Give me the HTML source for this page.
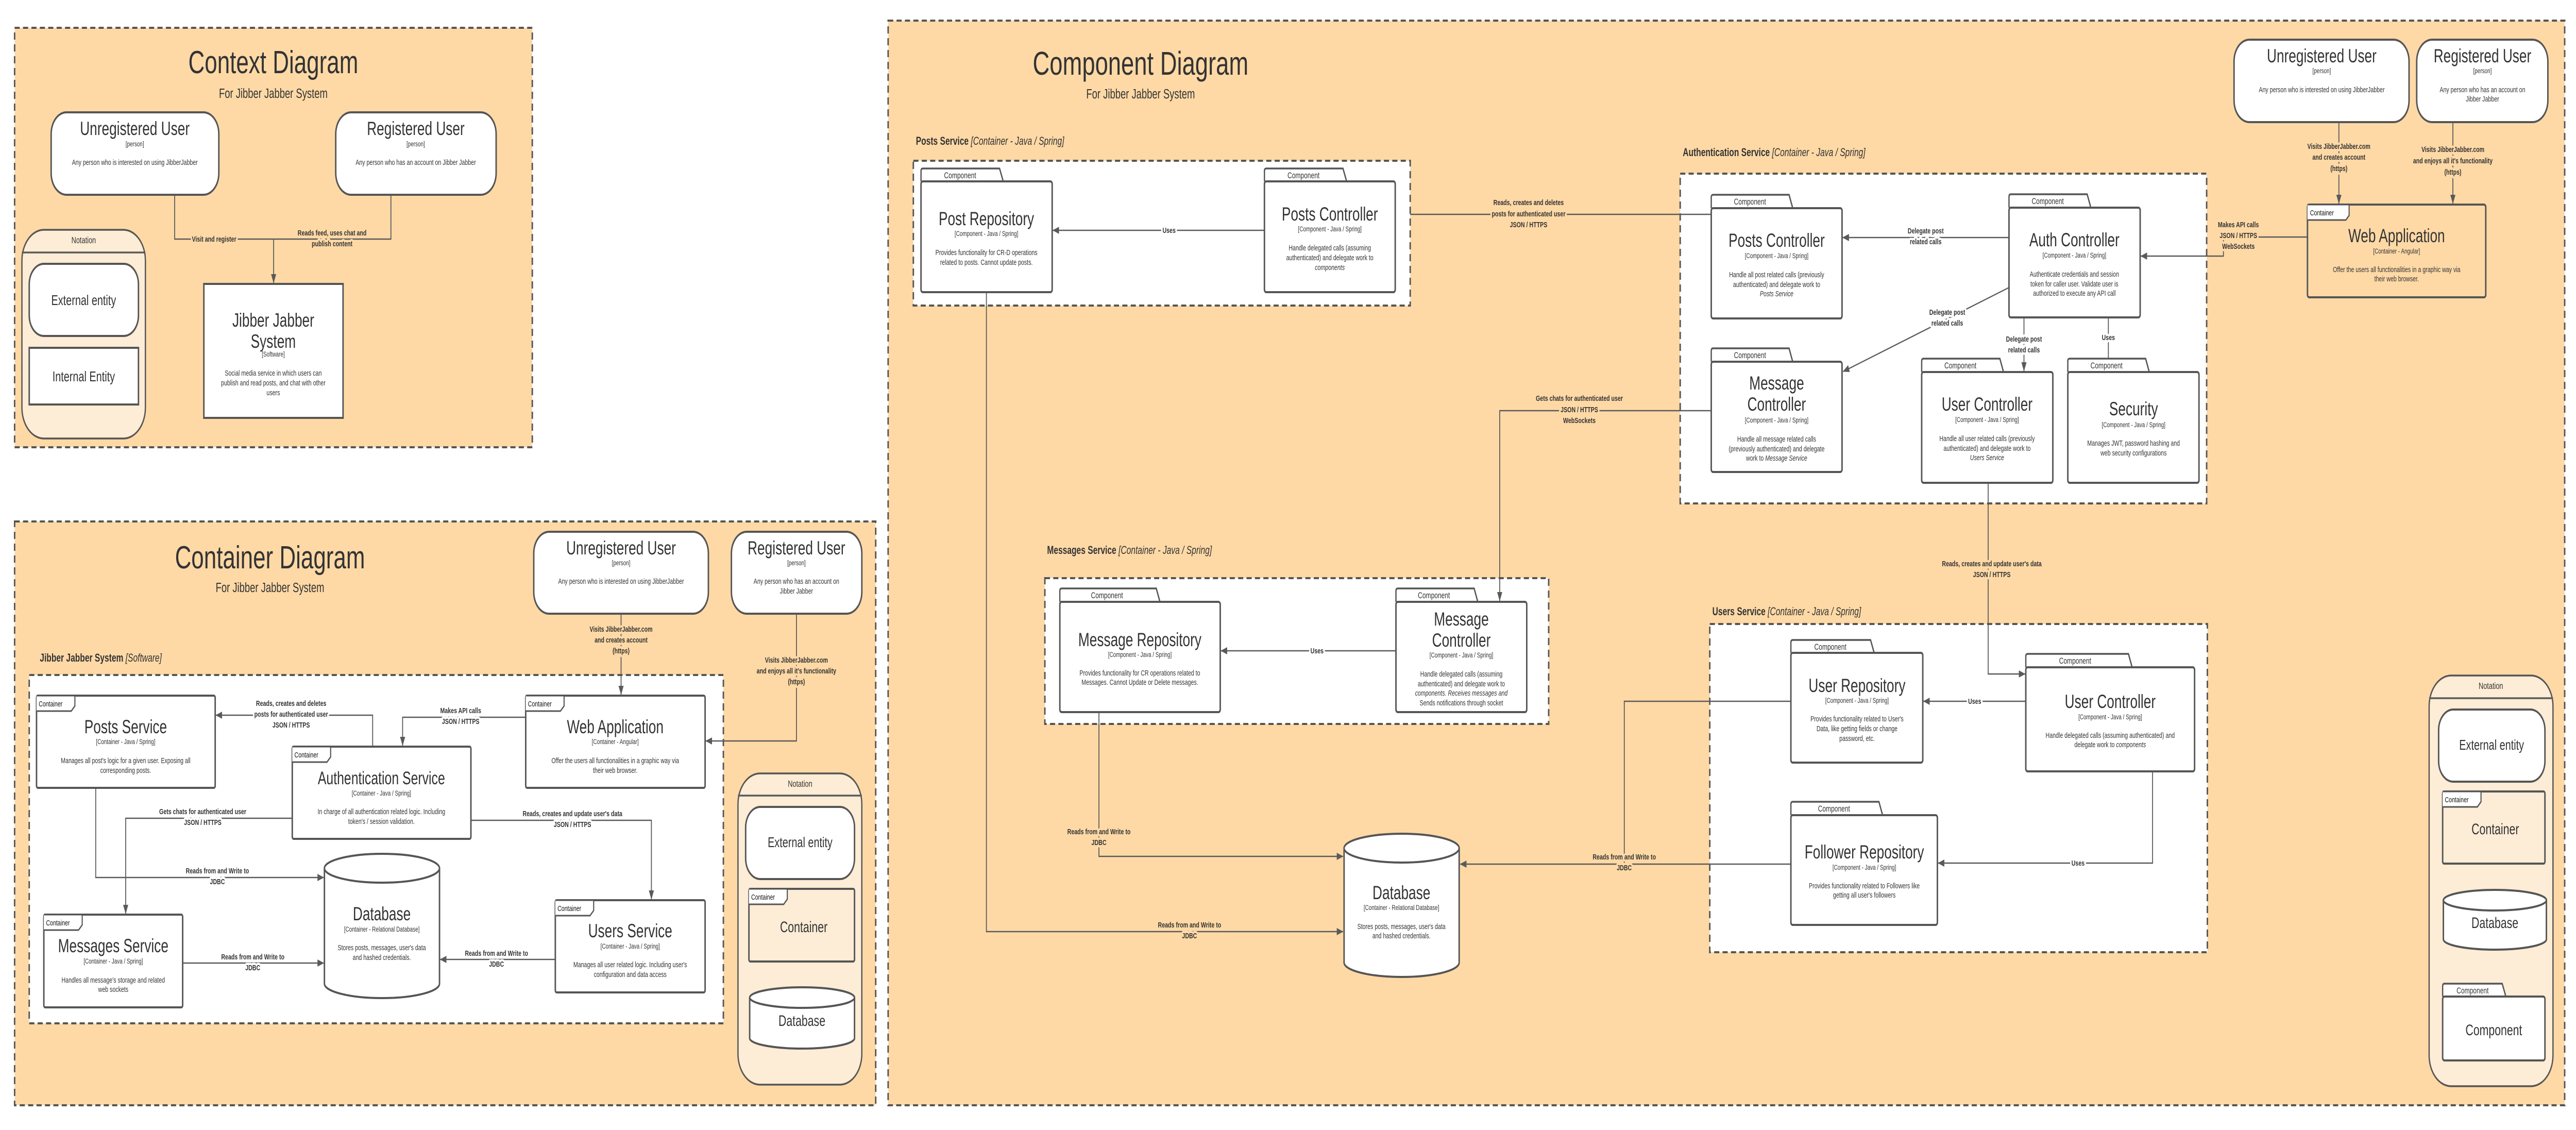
<!DOCTYPE html>
<html><head><meta charset="utf-8"><style>
html,body{margin:0;padding:0;background:#fff;width:100%;height:100%;overflow:hidden;}
svg{display:block;position:fixed;left:0;top:0;width:100vw;height:100vh;}
text{font-family:"Liberation Sans",sans-serif;fill:#333;text-anchor:middle;}
.fr{fill:#fed9a6;stroke:#555;stroke-width:4;stroke-dasharray:14 9;}
.wb{fill:#fff;stroke:#555;stroke-width:4;stroke-dasharray:14 9;}
.bx{fill:#fff;stroke:#555;stroke-width:4;}
.bo{fill:#fed9a6;stroke:#555;stroke-width:4;}
.nt{fill:#fdecd6;stroke:#555;stroke-width:3.5;}
.ln{fill:none;stroke:#5a5a5a;stroke-width:2.5;}
.la{fill:none;stroke:#5a5a5a;stroke-width:2.5;marker-end:url(#ah);}
.lb{font-weight:bold;font-size:15px;stroke:#fed9a6;stroke-width:9px;paint-order:stroke;stroke-linejoin:round;}
.lw{font-weight:bold;font-size:15px;stroke:#fff;stroke-width:9px;paint-order:stroke;stroke-linejoin:round;}
.h1{font-size:62px;}
.h2{font-size:26px;}
.pt{font-size:37px;}
.ct{font-size:35px;}
.sm{font-size:14px;}
.ds{font-size:15px;}
.tb{font-size:17px;}
.tc{font-size:15px;text-anchor:start;fill:#111;}
.sl{font-size:22px;font-weight:bold;text-anchor:start;}
.sl tspan.i{font-weight:normal;font-style:italic;}
.nn{font-size:28px;}
</style></head><body>
<svg viewBox="0 0 7051 2193" preserveAspectRatio="none" xmlns="http://www.w3.org/2000/svg">
<defs>
<marker id="ah" markerUnits="userSpaceOnUse" markerWidth="18" markerHeight="14" refX="17" refY="7" orient="auto">
<path d="M0,0 L18,7 L0,14 z" fill="#5a5a5a"/>
</marker>
</defs>

<!-- ================= CONTEXT ================= -->
<rect class="fr" x="40" y="54" width="1417" height="814"/>
<text class="h1" x="748" y="142">Context Diagram</text>
<text class="h2" x="748" y="190">For Jibber Jabber System</text>

<path class="ln" d="M478 378 V464 H749"/>
<path class="ln" d="M1070 378 V464 H749"/>
<path class="la" d="M749 464 V549"/>
<text class="lb" x="586" y="469">Visit and register</text>
<text class="lb" x="909" y="457">Reads feed, uses chat and</text>
<text class="lb" x="909" y="478">publish content</text>

<rect class="bx" x="140" y="218" width="459" height="160" rx="42"/>
<text class="pt" x="369" y="262">Unregistered User</text>
<text class="sm" x="369" y="284">[person]</text>
<text class="ds" x="369" y="320">Any person who is interested on using JibberJabber</text>
<rect class="bx" x="919" y="218" width="439" height="160" rx="42"/>
<text class="pt" x="1138" y="262">Registered User</text>
<text class="sm" x="1138" y="284">[person]</text>
<text class="ds" x="1138" y="320">Any person who has an account on Jibber Jabber</text>

<rect class="bx" x="558" y="551" width="381" height="260"/>
<text class="pt" x="748" y="634">Jibber Jabber</text>
<text class="pt" x="748" y="675">System</text>
<text class="sm" x="748" y="692">[Software]</text>
<text class="ds" x="748" y="729">Social media service in which users can</text>
<text class="ds" x="748" y="748">publish and read posts, and chat with other</text>
<text class="ds" x="748" y="767">users</text>

<rect class="nt" x="60" y="446" width="338" height="405" rx="60"/>
<path class="ln" d="M60 490 H398" style="stroke-width:3.5"/>
<text x="229" y="472" style="font-size:18px">Notation</text>
<rect class="bx" x="80" y="512" width="299" height="140" rx="40"/>
<text class="nn" x="229" y="592">External entity</text>
<rect class="bx" x="80" y="675" width="299" height="110"/>
<text class="nn" x="229" y="740">Internal Entity</text>

<!-- ================= CONTAINER ================= -->
<rect class="fr" x="40" y="1012" width="2357" height="1133"/>
<text class="h1" x="739" y="1103">Container Diagram</text>
<text class="h2" x="739" y="1149">For Jibber Jabber System</text>

<rect class="bx" x="1461" y="1032" width="478" height="159" rx="42"/>
<text class="pt" x="1700" y="1076">Unregistered User</text>
<text class="sm" x="1700" y="1097">[person]</text>
<text class="ds" x="1700" y="1133">Any person who is interested on using JibberJabber</text>
<rect class="bx" x="2002" y="1032" width="357" height="159" rx="42"/>
<text class="pt" x="2180" y="1076">Registered User</text>
<text class="sm" x="2180" y="1097">[person]</text>
<text class="ds" x="2180" y="1133">Any person who has an account on</text>
<text class="ds" x="2180" y="1152">Jibber Jabber</text>

<text class="sl" x="109" y="1284">Jibber Jabber System <tspan class="i">[Software]</tspan></text>
<rect class="wb" x="80" y="1310" width="1900" height="676"/>

<path class="la" d="M1700 1191 V1348"/>
<text class="lb" x="1700" y="1226">Visits JibberJabber.com</text>
<text class="lb" x="1700" y="1247">and creates account</text>
<text class="lb" x="1700" y="1268">(https)</text>
<path class="la" d="M2180 1191 V1438 H1932"/>
<text class="lb" x="2180" y="1286">Visits JibberJabber.com</text>
<text class="lb" x="2180" y="1307">and enjoys all it's functionality</text>
<text class="lb" x="2180" y="1328">(https)</text>
<path class="la" d="M1439 1392 H1102 V1447"/>
<text class="lw" x="1261" y="1384">Makes API calls</text>
<text class="lw" x="1261" y="1405">JSON / HTTPS</text>
<path class="la" d="M1020 1449 V1388 H591"/>
<text class="lw" x="797" y="1370">Reads, creates and deletes</text>
<text class="lw" x="797" y="1391">posts for authenticated user</text>
<text class="lw" x="797" y="1412">JSON / HTTPS</text>
<path class="la" d="M800 1588 H344 V1773"/>
<text class="lw" x="555" y="1580">Gets chats for  authenticated user</text>
<text class="lw" x="555" y="1601">JSON / HTTPS</text>
<path class="la" d="M1289 1592 H1783 V1745"/>
<text class="lw" x="1567" y="1584">Reads, creates and update user's data</text>
<text class="lw" x="1567" y="1605">JSON / HTTPS</text>
<path class="la" d="M262 1529 V1703 H886"/>
<text class="lw" x="595" y="1695">Reads from and Write to</text>
<text class="lw" x="595" y="1716">JDBC</text>
<path class="la" d="M500 1869 H886"/>
<text class="lw" x="692" y="1862">Reads from and Write to</text>
<text class="lw" x="692" y="1883">JDBC</text>
<path class="la" d="M1520 1862 H1205"/>
<text class="lw" x="1359" y="1855">Reads from and Write to</text>
<text class="lw" x="1359" y="1876">JDBC</text>

<rect class="bx" x="100" y="1350" width="489" height="179" rx="4"/>
<path d="M100 1350 H205 V1370 L195 1380 H100" fill="#fff" stroke="#555" stroke-width="3"/>
<text class="tc" x="106" y="1371">Container</text>
<text class="pt" x="344" y="1423">Posts Service</text>
<text class="sm" x="344" y="1444">[Container - Java / Spring]</text>
<text class="ds" x="344" y="1481">Manages all post's logic for a given user. Exposing all</text>
<text class="ds" x="344" y="1500">corresponding posts.</text>

<rect class="bx" x="800" y="1449" width="489" height="179" rx="4"/>
<path d="M800 1449 H905 V1469 L895 1479 H800" fill="#fff" stroke="#555" stroke-width="3"/>
<text class="tc" x="806" y="1470">Container</text>
<text class="ct" x="1044" y="1522">Authentication Service</text>
<text class="sm" x="1044" y="1544">[Container - Java / Spring]</text>
<text class="ds" x="1044" y="1580">In charge of all authentication related logic. Including</text>
<text class="ds" x="1044" y="1599">token's / session validation.</text>

<rect class="bx" x="1439" y="1350" width="491" height="179" rx="4"/>
<path d="M1439 1350 H1544 V1370 L1534 1380 H1439" fill="#fff" stroke="#555" stroke-width="3"/>
<text class="tc" x="1445" y="1371">Container</text>
<text class="pt" x="1684" y="1423">Web Application</text>
<text class="sm" x="1684" y="1444">[Container - Angular]</text>
<text class="ds" x="1684" y="1481">Offer the users all functionalities in a graphic way via</text>
<text class="ds" x="1684" y="1500">their web browser.</text>

<path class="bx" d="M888 1685 V1909 A157.5 28 0 0 0 1203 1909 V1685"/>
<ellipse class="bx" cx="1045.5" cy="1685" rx="157.5" ry="28"/>
<text class="pt" x="1045" y="1786">Database</text>
<text class="sm" x="1045" y="1808">[Container - Relational Database]</text>
<text class="ds" x="1045" y="1844">Stores posts, messages, user's data</text>
<text class="ds" x="1045" y="1863">and hashed credentials.</text>

<rect class="bx" x="120" y="1775" width="380" height="180" rx="4"/>
<path d="M120 1775 H225 V1795 L215 1805 H120" fill="#fff" stroke="#555" stroke-width="3"/>
<text class="tc" x="126" y="1796">Container</text>
<text class="pt" x="310" y="1848">Messages Service</text>
<text class="sm" x="310" y="1870">[Container - Java / Spring]</text>
<text class="ds" x="310" y="1907">Handles all message's storage and related</text>
<text class="ds" x="310" y="1925">web sockets</text>

<rect class="bx" x="1520" y="1747" width="410" height="179" rx="4"/>
<path d="M1520 1747 H1625 V1767 L1615 1777 H1520" fill="#fff" stroke="#555" stroke-width="3"/>
<text class="tc" x="1526" y="1768">Container</text>
<text class="pt" x="1725" y="1819">Users Service</text>
<text class="sm" x="1725" y="1841">[Container - Java / Spring]</text>
<text class="ds" x="1725" y="1877">Manages all user related logic. Including user's</text>
<text class="ds" x="1725" y="1896">configuration and data access</text>

<rect class="nt" x="2020" y="1501" width="339" height="604" rx="60"/>
<path class="ln" d="M2020 1544 H2359" style="stroke-width:3.5"/>
<text x="2190" y="1527" style="font-size:18px">Notation</text>
<rect class="bx" x="2041" y="1566" width="298" height="140" rx="40"/>
<text class="nn" x="2190" y="1644">External entity</text>
<rect class="nt" x="2050" y="1725" width="289" height="141" rx="4" style="stroke-width:4"/>
<path d="M2050 1725 H2155 V1745 L2145 1755 H2050" fill="#fff" stroke="#555" stroke-width="3"/>
<text class="tc" x="2056" y="1746">Container</text>
<text class="nn" x="2200" y="1809" style="font-size:30px">Container</text>
<path class="bx" d="M2052 1936 V2015 A143.5 20 0 0 0 2339 2015 V1936"/>
<ellipse class="bx" cx="2195.5" cy="1936" rx="143.5" ry="20"/>
<text class="nn" x="2195" y="1991" style="font-size:30px">Database</text>

<!-- ================= COMPONENT ================= -->
<rect class="fr" x="2431" y="40" width="4589" height="2105"/>
<text class="h1" x="3122" y="145" style="font-size:64px">Component Diagram</text>
<text class="h2" x="3122" y="191">For Jibber Jabber System</text>

<text class="sl" x="2507" y="281">Posts Service <tspan class="i">[Container - Java / Spring]</tspan></text>
<rect class="wb" x="2500" y="312" width="1360" height="281"/>
<text class="sl" x="4606" y="303">Authentication Service <tspan class="i">[Container - Java / Spring]</tspan></text>
<rect class="wb" x="4599" y="337" width="1441" height="640"/>
<text class="sl" x="2866" y="1075">Messages Service <tspan class="i">[Container - Java / Spring]</tspan></text>
<rect class="wb" x="2860" y="1122" width="1379" height="283"/>
<text class="sl" x="4687" y="1194">Users Service <tspan class="i">[Container - Java / Spring]</tspan></text>
<rect class="wb" x="4680" y="1211" width="1362" height="637"/>

<path class="la" d="M3461 447 H2882"/>
<text class="lw" x="3200" y="452">Uses</text>
<path class="ln" d="M3860 416 H4684"/>
<text class="lb" x="4184" y="398">Reads, creates and deletes</text>
<text class="lb" x="4184" y="420">posts for authenticated user</text>
<text class="lb" x="4184" y="441">JSON / HTTPS</text>
<path class="la" d="M6402 237 V395"/>
<text class="lb" x="6402" y="289">Visits JibberJabber.com</text>
<text class="lb" x="6402" y="310">and creates account</text>
<text class="lb" x="6402" y="332">(https)</text>
<path class="la" d="M6714 237 V395"/>
<text class="lb" x="6714" y="295">Visits JibberJabber.com</text>
<text class="lb" x="6714" y="317">and enjoys all it's functionality</text>
<text class="lb" x="6714" y="339">(https)</text>
<path class="la" d="M6316 460 H6086 V497 H5860"/>
<text class="lb" x="6127" y="441">Makes API calls</text>
<text class="lb" x="6127" y="462">JSON / HTTPS</text>
<text class="lb" x="6127" y="483">WebSockets</text>
<path class="la" d="M5499 461 H5044"/>
<text class="lw" x="5271" y="453">Delegate post</text>
<text class="lw" x="5271" y="474">related calls</text>
<path class="la" d="M5499 558 L5045 721"/>
<text class="lw" x="5330" y="611">Delegate post</text>
<text class="lw" x="5330" y="632">related calls</text>
<path class="la" d="M5540 616 V720"/>
<text class="lw" x="5540" y="663">Delegate post</text>
<text class="lw" x="5540" y="684">related calls</text>
<path class="la" d="M5771 616 V720"/>
<text class="lw" x="5771" y="660">Uses</text>
<path class="la" d="M4684 797 H4105 V1166"/>
<text class="lb" x="4323" y="778">Gets chats for  authenticated user</text>
<text class="lb" x="4323" y="800">JSON / HTTPS</text>
<text class="lb" x="4323" y="821">WebSockets</text>
<path class="la" d="M3821 1263 H3342"/>
<text class="lw" x="3605" y="1268">Uses</text>
<path class="la" d="M3008 1382 V1662 H3676"/>
<text class="lb" x="3008" y="1619">Reads from and Write to</text>
<text class="lb" x="3008" y="1640">JDBC</text>
<path class="la" d="M2700 567 V1808 H3676"/>
<text class="lb" x="3256" y="1800">Reads from and Write to</text>
<text class="lb" x="3256" y="1821">JDBC</text>
<path class="la" d="M5442 937 V1308 H5543"/>
<text class="lb" x="5452" y="1099">Reads, creates and update user's data</text>
<text class="lb" x="5452" y="1120">JSON / HTTPS</text>
<path class="la" d="M5545 1361 H5265"/>
<text class="lw" x="5405" y="1366">Uses</text>
<path class="la" d="M5892 1497 V1675 H5305"/>
<text class="lw" x="5688" y="1680">Uses</text>
<path class="ln" d="M4902 1361 H4446 V1677"/>
<path class="la" d="M4902 1677 H3997"/>
<text class="lb" x="4446" y="1668">Reads from and Write to</text>
<text class="lb" x="4446" y="1689">JDBC</text>

<rect class="bx" x="6115" y="77" width="479" height="160" rx="42"/>
<text class="pt" x="6355" y="121">Unregistered User</text>
<text class="sm" x="6355" y="142">[person]</text>
<text class="ds" x="6355" y="179">Any person who is interested on using JibberJabber</text>
<rect class="bx" x="6615" y="77" width="359" height="160" rx="42"/>
<text class="pt" x="6795" y="121">Registered User</text>
<text class="sm" x="6795" y="142">[person]</text>
<text class="ds" x="6795" y="179">Any person who has an account on</text>
<text class="ds" x="6795" y="197">Jibber Jabber</text>

<rect class="bo" x="6316" y="397" width="488" height="180" rx="5"/>
<path d="M6316 397 H6430 V418 L6421 427 H6316" fill="#fff" stroke="#555" stroke-width="3"/>
<text class="tc" x="6323" y="418">Container</text>
<text class="pt" x="6560" y="470">Web Application</text>
<text class="sm" x="6560" y="492">[Container - Angular]</text>
<text class="ds" x="6560" y="528">Offer the users all functionalities in a graphic way via</text>
<text class="ds" x="6560" y="546">their web browser.</text>

<path class="bx" d="M2521 352 V332 Q2521 327 2526 327 H2736 L2746 352" style="stroke-width:3.5"/>
<text class="tb" x="2628" y="346">Component</text>
<rect class="bx" x="2521" y="352" width="359" height="215" rx="5"/>
<text class="pt" x="2700" y="437">Post Repository</text>
<text class="sm" x="2700" y="458">[Component - Java / Spring]</text>
<text class="ds" x="2700" y="495">Provides functionality for CR-D operations</text>
<text class="ds" x="2700" y="514">related to posts. Cannot update posts.</text>

<path class="bx" d="M3461 352 V332 Q3461 327 3466 327 H3676 L3686 352" style="stroke-width:3.5"/>
<text class="tb" x="3568" y="346">Component</text>
<rect class="bx" x="3461" y="352" width="358" height="215" rx="5"/>
<text class="pt" x="3640" y="428">Posts Controller</text>
<text class="sm" x="3640" y="449">[Component - Java / Spring]</text>
<text class="ds" x="3640" y="486">Handle delegated calls (assuming</text>
<text class="ds" x="3640" y="505">authenticated) and delegate work to</text>
<text class="ds" x="3640" y="524" font-style="italic">components</text>

<path class="bx" d="M4684 404 V383 Q4684 378 4689 378 H4897 L4907 404" style="stroke-width:3.5"/>
<text class="tb" x="4790" y="397">Component</text>
<rect class="bx" x="4684" y="404" width="358" height="214" rx="5"/>
<text class="pt" x="4863" y="479">Posts Controller</text>
<text class="sm" x="4863" y="501">[Component - Java / Spring]</text>
<text class="ds" x="4863" y="538">Handle all post related calls (previously</text>
<text class="ds" x="4863" y="557">authenticated) and delegate work to</text>
<text class="ds" x="4863" y="575" font-style="italic">Posts Service</text>

<path class="bx" d="M5499 403 V382 Q5499 377 5504 377 H5713 L5723 403" style="stroke-width:3.5"/>
<text class="tb" x="5605" y="396">Component</text>
<rect class="bx" x="5499" y="403" width="359" height="213" rx="5"/>
<text class="pt" x="5678" y="478">Auth Controller</text>
<text class="sm" x="5678" y="500">[Component - Java / Spring]</text>
<text class="ds" x="5678" y="537">Authenticate credentials and session</text>
<text class="ds" x="5678" y="556">token for caller user. Validate user is</text>
<text class="ds" x="5678" y="574">authorized to execute any API call</text>

<path class="bx" d="M4684 702 V681 Q4684 676 4689 676 H4897 L4907 702" style="stroke-width:3.5"/>
<text class="tb" x="4790" y="695">Component</text>
<rect class="bx" x="4684" y="702" width="358" height="214" rx="5"/>
<text class="pt" x="4863" y="756">Message</text>
<text class="pt" x="4863" y="797">Controller</text>
<text class="sm" x="4863" y="820">[Component - Java / Spring]</text>
<text class="ds" x="4863" y="857">Handle all message related calls</text>
<text class="ds" x="4863" y="876">(previously authenticated) and delegate</text>
<text class="ds" x="4863" y="894">work to <tspan font-style="italic">Message Service</tspan></text>

<path class="bx" d="M5260 722 V701 Q5260 696 5265 696 H5474 L5484 722" style="stroke-width:3.5"/>
<text class="tb" x="5366" y="715">Component</text>
<rect class="bx" x="5260" y="722" width="359" height="215" rx="5"/>
<text class="pt" x="5439" y="797">User Controller</text>
<text class="sm" x="5439" y="819">[Component - Java / Spring]</text>
<text class="ds" x="5439" y="856">Handle all user related calls (previously</text>
<text class="ds" x="5439" y="875">authenticated) and delegate work to</text>
<text class="ds" x="5439" y="893" font-style="italic">Users Service</text>

<path class="bx" d="M5660 722 V701 Q5660 696 5665 696 H5873 L5883 722" style="stroke-width:3.5"/>
<text class="tb" x="5766" y="715">Component</text>
<rect class="bx" x="5660" y="722" width="359" height="215" rx="5"/>
<text class="pt" x="5840" y="806">Security</text>
<text class="sm" x="5840" y="829">[Component - Java / Spring]</text>
<text class="ds" x="5840" y="865">Manages JWT, password hashing and</text>
<text class="ds" x="5840" y="884">web security configurations</text>

<path class="bx" d="M2901 1168 V1147 Q2901 1142 2906 1142 H3165 L3175 1168" style="stroke-width:3.5"/>
<text class="tb" x="3030" y="1161">Component</text>
<rect class="bx" x="2901" y="1168" width="439" height="214" rx="5"/>
<text class="pt" x="3120" y="1254">Message Repository</text>
<text class="sm" x="3120" y="1275">[Component - Java / Spring]</text>
<text class="ds" x="3120" y="1311">Provides functionality for CR operations related to</text>
<text class="ds" x="3120" y="1329">Messages. Cannot Update or Delete messages.</text>

<path class="bx" d="M3821 1168 V1147 Q3821 1142 3826 1142 H4035 L4045 1168" style="stroke-width:3.5"/>
<text class="tb" x="3925" y="1161">Component</text>
<rect class="bx" x="3821" y="1168" width="358" height="214" rx="5"/>
<text class="pt" x="4000" y="1214">Message</text>
<text class="pt" x="4000" y="1255">Controller</text>
<text class="sm" x="4000" y="1276">[Component - Java / Spring]</text>
<text class="ds" x="4000" y="1313">Handle delegated calls (assuming</text>
<text class="ds" x="4000" y="1332">authenticated) and delegate work to</text>
<text class="ds" x="4000" y="1350" font-style="italic">components. Receives messages and</text>
<text class="ds" x="4000" y="1369">Sends notifications through socket</text>

<path class="bx" d="M3679 1646 V1868 A157.5 28 0 0 0 3994 1868 V1646"/>
<ellipse class="bx" cx="3836.5" cy="1646" rx="157.5" ry="28"/>
<text class="pt" x="3836" y="1745">Database</text>
<text class="sm" x="3836" y="1766">[Container - Relational Database]</text>
<text class="ds" x="3836" y="1803">Stores posts, messages, user's data</text>
<text class="ds" x="3836" y="1821">and hashed credentials.</text>

<path class="bx" d="M4902 1267 V1247 Q4902 1242 4907 1242 H5120 L5130 1267" style="stroke-width:3.5"/>
<text class="tb" x="5010" y="1261">Component</text>
<rect class="bx" x="4902" y="1267" width="361" height="213" rx="5"/>
<text class="pt" x="5083" y="1343">User Repository</text>
<text class="sm" x="5083" y="1364">[Component - Java / Spring]</text>
<text class="ds" x="5083" y="1400">Provides functionality related to User's</text>
<text class="ds" x="5083" y="1419">Data, like getting fields or change</text>
<text class="ds" x="5083" y="1438">password, etc.</text>

<path class="bx" d="M5545 1295 V1274 Q5545 1269 5550 1269 H5826 L5836 1295" style="stroke-width:3.5"/>
<text class="tb" x="5680" y="1288">Component</text>
<rect class="bx" x="5545" y="1295" width="462" height="202" rx="5"/>
<text class="pt" x="5776" y="1374">User Controller</text>
<text class="sm" x="5776" y="1396">[Component - Java / Spring]</text>
<text class="ds" x="5776" y="1432">Handle delegated calls (assuming authenticated) and</text>
<text class="ds" x="5776" y="1450">delegate work to <tspan font-style="italic">components</tspan></text>

<path class="bx" d="M4902 1582 V1561 Q4902 1556 4907 1556 H5143 L5153 1582" style="stroke-width:3.5"/>
<text class="tb" x="5020" y="1575">Component</text>
<rect class="bx" x="4902" y="1582" width="401" height="213" rx="5"/>
<text class="pt" x="5103" y="1666">Follower Repository</text>
<text class="sm" x="5103" y="1688">[Component - Java / Spring]</text>
<text class="ds" x="5103" y="1724">Provides functionality related to Followers like</text>
<text class="ds" x="5103" y="1742">getting all user's followers</text>

<rect class="nt" x="6649" y="1311" width="339" height="797" rx="60"/>
<path class="ln" d="M6649 1355 H6988" style="stroke-width:3.5"/>
<text x="6818" y="1337" style="font-size:18px">Notation</text>
<rect class="bx" x="6675" y="1377" width="291" height="140" rx="40"/>
<text class="nn" x="6820" y="1455">External entity</text>
<rect class="nt" x="6686" y="1536" width="280" height="140" rx="4" style="stroke-width:4"/>
<path d="M6686 1536 H6791 V1556 L6781 1566 H6686" fill="#fff" stroke="#555" stroke-width="3"/>
<text class="tc" x="6692" y="1557">Container</text>
<text class="nn" x="6830" y="1619" style="font-size:30px">Container</text>
<path class="bx" d="M6688 1747 V1823 A141 20 0 0 0 6970 1823 V1747"/>
<ellipse class="bx" cx="6829" cy="1747" rx="141" ry="20"/>
<text class="nn" x="6829" y="1801" style="font-size:30px">Database</text>
<path class="bx" d="M6686 1934 V1914 Q6686 1909 6691 1909 H6849 L6859 1934" style="stroke-width:3.5"/>
<text class="tb" x="6768" y="1928">Component</text>
<rect class="bx" x="6686" y="1934" width="280" height="124" rx="5"/>
<text class="nn" x="6826" y="2009" style="font-size:30px">Component</text>
</svg>
</body></html>
